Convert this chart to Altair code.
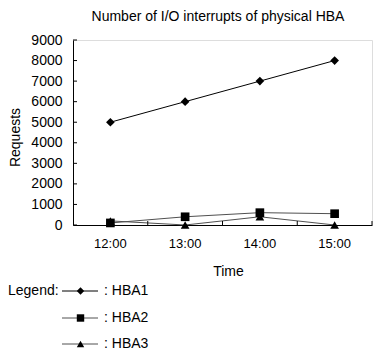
import altair as alt
import pandas as pd

TIMES = ["12:00", "13:00", "14:00", "15:00"]
HBA1 = [5000, 6000, 7000, 8000]
HBA2 = [100, 400, 600, 550]
HBA3 = [200, 0, 400, 0]
SERIES = ["HBA1", "HBA2", "HBA3"]
SHAPES = ["diamond", "square", "triangle-up"]
LINE_COLORS = ["#000000", "#505050", "#505050"]
Y_TICKS = [0, 1000, 2000, 3000, 4000, 5000, 6000, 7000, 8000, 9000]
TITLE = "Number of I/O interrupts of physical HBA"

FONT = "Liberation Sans"
W, H = 299, 185

rows = []
for name, vals in zip(SERIES, [HBA1, HBA2, HBA3]):
    for t, v in zip(TIMES, vals):
        rows.append({"time": t, "value": v, "series": name})
df = pd.DataFrame(rows)

xscale = alt.Scale(type="band", domain=TIMES, paddingInner=0, paddingOuter=0)
yscale = alt.Scale(domain=[0, 9000], nice=False, zero=True)

x_axis = alt.Axis(title="Time", domain=True, domainColor="black", ticks=False,
                  labelFontSize=13, labelPadding=12, labelColor="black", labelFont=FONT,
                  titleFontSize=14, titleFontWeight="normal", titleFont=FONT, titleColor="black",
                  titleY=39, titleX=155, titleBaseline="top", labelAngle=0, grid=False)
y_axis = alt.Axis(title="Requests", values=Y_TICKS, format="d", domain=True, domainColor="black",
                  ticks=False, labelFontSize=14, labelPadding=11, labelColor="black", labelFont=FONT,
                  titleFontSize=14, titleFontWeight="normal", titleFont=FONT, titleColor="black",
                  titleX=-58, titleY=97, titleAngle=270, titleBaseline="middle", titleAlign="center",
                  grid=False)

color = alt.Color("series:N", scale=alt.Scale(domain=SERIES, range=LINE_COLORS), legend=None)
shape = alt.Shape("series:N", scale=alt.Scale(domain=SERIES, range=SHAPES), legend=None)

lines = alt.Chart(df).mark_line(strokeWidth=1).encode(
    x=alt.X("time:N", scale=xscale, bandPosition=0.5, axis=x_axis),
    y=alt.Y("value:Q", scale=yscale, axis=y_axis),
    color=color, detail="series:N")
points = alt.Chart(df).mark_point(filled=True, size=75, color="black", opacity=1).encode(
    x=alt.X("time:N", scale=xscale, bandPosition=0.5, axis=x_axis),
    y=alt.Y("value:Q", scale=yscale, axis=y_axis), shape=shape)

# inward tick marks
ytick_df = pd.DataFrame({"value": Y_TICKS})
yticks = alt.Chart(ytick_df).mark_rule(color="black", strokeWidth=1).encode(
    y=alt.Y("value:Q", scale=yscale, axis=y_axis), x=alt.value(0), x2=alt.value(4))
xtick_df = pd.DataFrame({"time": TIMES})
xticks = alt.Chart(xtick_df).mark_rule(color="black", strokeWidth=1).encode(
    x=alt.X("time:N", scale=xscale, bandPosition=1, axis=x_axis), y=alt.value(H), y2=alt.value(H - 4))

title = alt.Chart(pd.DataFrame({"t": [TITLE]})).mark_text(
    align="center", baseline="middle", fontSize=14, font=FONT, color="black").encode(
    text="t:N", x=alt.value(145), y=alt.value(-23))

# manual legend
LEG_Y = [251, 278, 304]
legend_layers = []
legend_layers.append(
    alt.Chart(pd.DataFrame({"t": ["Legend:"]})).mark_text(
        align="left", baseline="middle", fontSize=14, font=FONT, color="black").encode(
        text="t:N", x=alt.value(-65), y=alt.value(LEG_Y[0])))
for s, shp, lc, ly in zip(SERIES, SHAPES, LINE_COLORS, LEG_Y):
    d = pd.DataFrame({"series": [s], "label": [": " + s]})
    legend_layers.append(alt.Chart(d).mark_rule(color=lc, strokeWidth=1).encode(
        x=alt.value(-11), x2=alt.value(25), y=alt.value(ly)))
    legend_layers.append(alt.Chart(d).mark_point(shape=shp, filled=True, size=55, color="black", opacity=1).encode(
        x=alt.value(7.5), y=alt.value(ly)))
    legend_layers.append(alt.Chart(d).mark_text(align="left", baseline="middle", fontSize=14, font=FONT,
                                                color="black").encode(
        text="label:N", x=alt.value(31), y=alt.value(ly)))

chart = alt.layer(lines, points, yticks, xticks, title, *legend_layers).properties(
    width=W, height=H,
    autosize=alt.AutoSizeParams(type="none"),
    padding={"left": 65, "top": 32, "right": 1, "bottom": 127},
).configure_view(stroke=None).configure(background="white")

chart.save("out.html", embed_options={"renderer": "svg", "actions": False})
